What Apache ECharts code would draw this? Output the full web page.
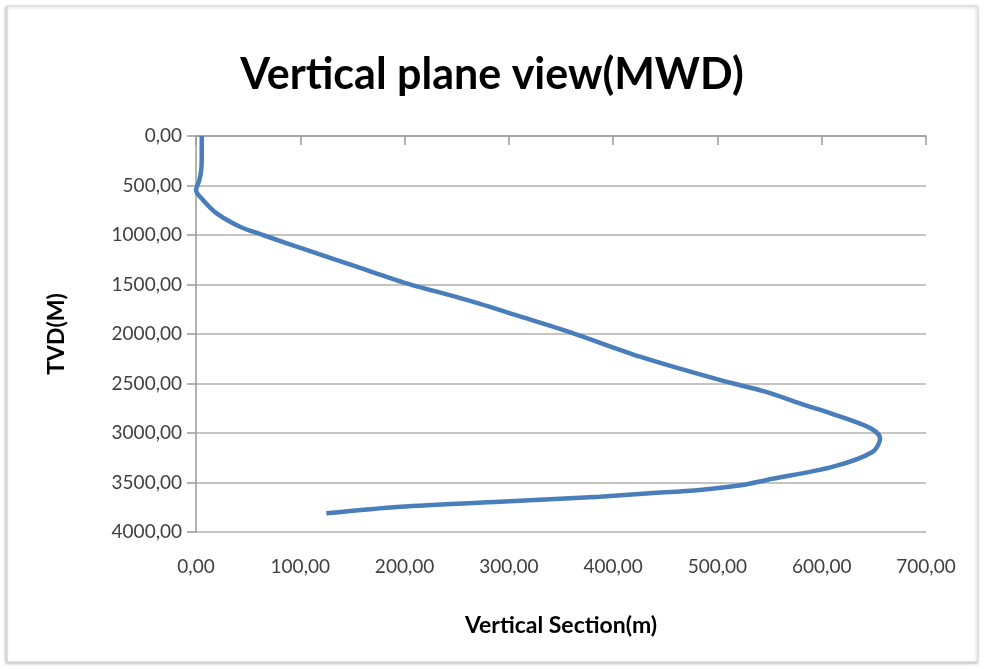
<!DOCTYPE html>
<html>
<head>
<meta charset="utf-8">
<title>Vertical plane view(MWD)</title>
<script src="https://cdn.jsdelivr.net/npm/echarts@6/dist/echarts.min.js"></script>
<style>
  html, body { margin: 0; padding: 0; background: #ffffff; }
  #chart { width: 984px; height: 669px; }
</style>
</head>
<body>
<div id="chart"></div>
<script>
// Well path: vertical section (m) against true vertical depth (m)
const vsection = [5.5, 5.5, 5, 3, 0, 6.7, 19.8, 42.2, 64.2, 106, 154, 202, 259.6, 310, 361.8, 425.7, 502, 545, 579, 627, 648, 656, 649, 611, 547.5, 524.5, 483, 435, 387, 339.5, 291.5, 195.6, 125];
const tvd      = [0, 200, 343, 455, 545, 646, 781, 916, 1000, 1151, 1320, 1488, 1656, 1820, 1993, 2229, 2464, 2580, 2700, 2868, 2960, 3053, 3189, 3340, 3474, 3525, 3575, 3609, 3643, 3669, 3694, 3744, 3811];

const xTickLabels = ['0,00', '100,00', '200,00', '300,00', '400,00', '500,00', '600,00', '700,00'];
const yTickLabels = ['0,00', '500,00', '1000,00', '1500,00', '2000,00', '2500,00', '3000,00', '3500,00', '4000,00'];

const X_STEP = 100, Y_STEP = 500;
const points = vsection.map((v, i) => [v, tvd[i]]);

const labelFont = { fontFamily: 'Lato', fontSize: 19, color: '#404040' };
const nameFont = { fontFamily: 'Lato', fontWeight: 'bold', fontSize: 23, color: '#000000' };
const gridGray = '#b0b0b0';
const axisGray = '#9a9a9a';

const chart = echarts.init(document.getElementById('chart'), null, { renderer: 'canvas' });
chart.setOption({
  backgroundColor: '#ffffff',
  animation: false,
  graphic: [{
    type: 'rect',
    shape: { x: 7, y: 6, width: 971, height: 656 },
    style: { fill: '#ffffff', stroke: '#d4d4d4', lineWidth: 1,
             shadowColor: 'rgba(0,0,0,0.25)', shadowBlur: 3, shadowOffsetX: -1, shadowOffsetY: 1 },
    z: -10, silent: true
  }],
  title: {
    text: 'Vertical plane view(MWD)',
    left: 'center',
    top: 49,
    textStyle: { fontFamily: 'Lato', fontWeight: 'bold', fontSize: 43, color: '#000000' }
  },
  grid: { left: 196, top: 136, right: 58, bottom: 137, containLabel: false },
  xAxis: [{
    type: 'value', position: 'bottom', min: 0, max: 700, interval: X_STEP,
    name: 'Vertical Section(m)', nameLocation: 'middle', nameGap: 82,
    nameTextStyle: nameFont,
    axisLine: { show: false }, axisTick: { show: false }, splitLine: { show: false },
    axisLabel: Object.assign({ margin: 25, formatter: v => xTickLabels[Math.round(v / X_STEP)] }, labelFont)
  }, {
    type: 'value', position: 'top', min: 0, max: 700, interval: X_STEP,
    axisLine: { show: true, lineStyle: { color: axisGray, width: 1.5 } },
    axisTick: { show: true, inside: true, length: 9, lineStyle: { color: axisGray, width: 1.5 } },
    axisLabel: { show: false }, splitLine: { show: false }
  }],
  yAxis: {
    type: 'value', inverse: true, min: 0, max: 4000, interval: Y_STEP,
    name: 'TVD(M)', nameLocation: 'middle', nameGap: 128, nameRotate: 90,
    nameTextStyle: nameFont,
    axisLine: { show: true, lineStyle: { color: axisGray, width: 1.5 } },
    axisTick: { show: true, inside: false, length: 9, lineStyle: { color: axisGray, width: 1.5 } },
    splitLine: { show: true, lineStyle: { color: gridGray, width: 1.5 } },
    axisLabel: Object.assign({ margin: 14, formatter: v => yTickLabels[Math.round(v / Y_STEP)] }, labelFont)
  },
  series: [{
    type: 'line',
    data: points,
    smooth: 0.3,
    showSymbol: false,
    lineStyle: { color: '#4a7ebb', width: 4.5 },
    xAxisIndex: 0
  }]
});
</script>
</body>
</html>
